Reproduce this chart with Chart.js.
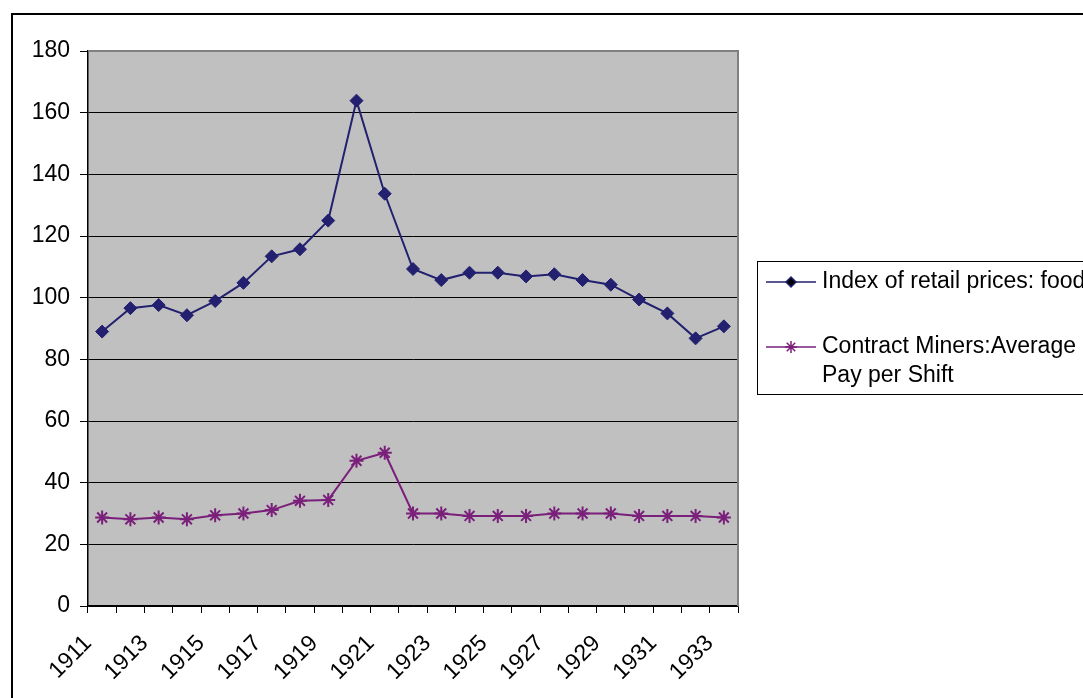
<!DOCTYPE html>
<html>
<head>
<meta charset="utf-8">
<script src="https://cdn.jsdelivr.net/npm/chart.js@4"></script>
<style>
	html, body { margin: 0; padding: 0; background: #ffffff; }
	#wrap { width: 1083px; height: 698px; position: relative; }
</style>
</head>
<body>
<div id="wrap"><canvas id="priceChart"></canvas></div>
<script>
"use strict";

const years = ["1911", "1912", "1913", "1914", "1915", "1916", "1917", "1918", "1919", "1920", "1921", "1922",
	"1923", "1924", "1925", "1926", "1927", "1928", "1929", "1930", "1931", "1932", "1933"];
const foodPrices = [89.0, 96.6, 97.6, 94.3, 98.9, 104.8, 113.4, 115.7, 125.0, 163.9, 133.7, 109.3,
	105.7, 108.1, 108.1, 106.9, 107.6, 105.7, 104.2, 99.4, 94.9, 86.8, 90.7];
const minersPay = [28.7, 28.1, 28.7, 28.1, 29.4, 30.0, 31.1, 34.1, 34.4, 47.1, 49.7, 30.0,
	30.0, 29.2, 29.2, 29.2, 30.0, 30.0, 30.0, 29.2, 29.2, 29.2, 28.7];
const seriesLabels = [["Index of retail prices: food"], ["Contract Miners:Average", "Pay per Shift"]];

const fontFamily = "'Liberation Sans', Arial, sans-serif";
const fontSize = 23;

// gray plot area, outer frame and the boxed legend on the right
const excelLook = {
	id: "excelLook",
	beforeDraw: chart => {
		let ctx = chart.ctx;
		let area = chart.chartArea;
		ctx.save();
		ctx.fillStyle = "#c0c0c0";
		ctx.fillRect(area.left, area.top, area.right - area.left, area.bottom - area.top);
		ctx.strokeStyle = "#000000";
		ctx.lineWidth = 2;
		ctx.strokeRect(12, 14, 1200, 800);
		ctx.restore();
	},
	afterDatasetsDraw: chart => {
		let ctx = chart.ctx;
		let area = chart.chartArea;
		ctx.save();
		ctx.strokeStyle = "#808080";
		ctx.lineWidth = 2;
		ctx.beginPath();
		ctx.moveTo(area.left, area.top);
		ctx.lineTo(area.right, area.top);
		ctx.lineTo(area.right, area.bottom);
		ctx.stroke();
		ctx.restore();
	},
	afterDraw: chart => {
		let ctx = chart.ctx;
		ctx.save();
		ctx.strokeStyle = "#000000";
		ctx.lineWidth = 1;
		ctx.strokeRect(757.5, 261.5, 400, 133);
		ctx.font = fontSize + "px " + fontFamily;
		ctx.textBaseline = "middle";
		ctx.fillStyle = "#000000";
		let rowY = [282, 347];
		chart.data.datasets.forEach((dataset, index) => {
			let y = rowY[index];
			ctx.strokeStyle = dataset.borderColor;
			ctx.lineWidth = 1.5;
			ctx.beginPath();
			ctx.moveTo(766, y);
			ctx.lineTo(816, y);
			ctx.stroke();
			Chart.helpers.drawPoint(ctx, {
				pointStyle: dataset.pointStyle,
				radius: index === 0 ? 5 : 6,
				rotation: 0,
				borderWidth: 1.5
			}, 791, y);
			ctx.fillStyle = "#000000";
			seriesLabels[index].forEach((line, lineIndex) => {
				ctx.fillText(line, 822, y + lineIndex * 29);
			});
		});
		ctx.restore();
	}
};

const buildChart = () => {
	let canvas = document.querySelector("canvas#priceChart");
	new Chart(canvas, {
		type: "line",
		data: {
			labels: years,
			datasets: [{
				label: seriesLabels[0].join(" "),
				data: foodPrices,
				borderColor: "#22206f",
				backgroundColor: "#22206f",
				borderWidth: 2,
				pointStyle: "rectRot",
				pointRadius: 6.5,
				pointBorderWidth: 1,
				tension: 0
			}, {
				label: seriesLabels[1].join(" "),
				data: minersPay,
				borderColor: "#7a1f7a",
				backgroundColor: "#7a1f7a",
				borderWidth: 2,
				pointStyle: "star",
				pointRadius: 7,
				pointBorderWidth: 2,
				tension: 0
			}]
		},
		options: {
			responsive: false,
			animation: false,
			devicePixelRatio: 1,
			layout: {
				padding: { left: 0, top: 51, right: 345, bottom: 0 }
			},
			scales: {
				x: {
					offset: true,
					afterFit: scale => { scale.height = 92; },
					grid: {
						offset: true,
						drawOnChartArea: false,
						color: "#000000",
						tickLength: 7
					},
					border: { color: "#000000", width: 1.5 },
					ticks: {
						autoSkip: false,
						maxRotation: 45,
						minRotation: 45,
						padding: 17,
						labelOffset: -14,
						color: "#000000",
						font: { family: fontFamily, size: fontSize },
						callback: (value, index) => index % 2 === 0 ? years[index] : ""
					}
				},
				y: {
					min: 0,
					max: 180,
					afterFit: scale => { scale.width = 88; },
					grid: {
						color: "#000000",
						lineWidth: 1,
						tickLength: 8
					},
					border: { color: "#000000", width: 1.5 },
					ticks: {
						stepSize: 20,
						padding: 10,
						color: "#000000",
						font: { family: fontFamily, size: fontSize }
					}
				}
			},
			plugins: {
				legend: { display: false },
				tooltip: { enabled: false }
			}
		},
		plugins: [excelLook]
	});
};

let canvas = document.querySelector("canvas#priceChart");
canvas.width = 1083;
canvas.height = 698;
buildChart();
</script>
</body>
</html>
